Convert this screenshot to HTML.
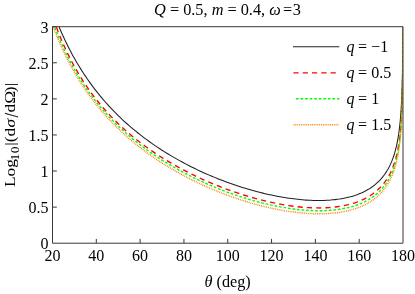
<!DOCTYPE html><html><head><meta charset="utf-8"><style>html,body{margin:0;padding:0;background:#fff}body{width:415px;height:294px;position:relative;overflow:hidden;font-family:"Liberation Serif",serif}</style></head><body><svg width="415" height="294" viewBox="0 0 415 294" style="position:absolute;left:0;top:0;will-change:transform">
<defs><clipPath id="cp"><rect x="52.5" y="26.7" width="350.5" height="216.5"/></clipPath></defs>
<g fill="none" stroke-linejoin="round" clip-path="url(#cp)">
<path d="M50.31,3.61 L51.4,6.79 L52.5,9.89 L53.6,12.91 L54.69,15.84 L55.79,18.7 L56.88,21.48 L57.98,24.2 L59.07,26.85 L60.17,29.44 L61.26,31.96 L62.36,34.43 L63.45,36.84 L64.55,39.2 L65.64,41.51 L66.74,43.77 L67.83,45.98 L68.93,48.15 L70.03,50.27 L71.12,52.35 L72.22,54.39 L73.31,56.39 L74.41,58.35 L76.6,62.16 L78.79,65.83 L80.98,69.38 L83.17,72.81 L85.36,76.12 L87.55,79.32 L89.74,82.42 L91.93,85.43 L94.12,88.35 L96.31,91.18 L98.5,93.92 L100.69,96.6 L102.88,99.19 L105.07,101.72 L107.27,104.18 L109.46,106.58 L111.65,108.91 L113.84,111.19 L116.03,113.41 L118.22,115.58 L120.41,117.69 L122.6,119.76 L124.79,121.77 L126.98,123.75 L129.17,125.67 L131.36,127.56 L133.55,129.4 L135.74,131.21 L137.93,132.98 L140.12,134.71 L142.32,136.4 L144.51,138.06 L146.7,139.69 L148.89,141.28 L151.08,142.84 L153.27,144.37 L155.46,145.87 L157.65,147.34 L159.84,148.79 L162.03,150.21 L164.22,151.6 L166.41,152.96 L168.6,154.3 L170.79,155.61 L172.98,156.9 L175.18,158.17 L177.37,159.41 L179.56,160.63 L181.75,161.83 L183.94,163.01 L186.13,164.16 L188.32,165.29 L190.51,166.41 L192.7,167.5 L194.89,168.57 L197.08,169.63 L199.27,170.66 L201.46,171.68 L203.65,172.68 L205.84,173.66 L208.03,174.62 L210.22,175.56 L212.42,176.48 L214.61,177.39 L216.8,178.28 L218.99,179.15 L221.18,180.01 L223.37,180.85 L225.56,181.67 L227.75,182.47 L229.94,183.26 L232.13,184.03 L234.32,184.79 L236.51,185.53 L238.7,186.25 L240.89,186.96 L243.08,187.65 L245.28,188.32 L247.47,188.98 L249.66,189.62 L251.85,190.24 L254.04,190.85 L256.23,191.44 L258.42,192.02 L260.61,192.58 L262.8,193.12 L264.99,193.64 L267.18,194.15 L269.37,194.64 L271.56,195.11 L273.75,195.57 L275.94,196.01 L278.13,196.43 L280.33,196.83 L282.52,197.21 L284.71,197.58 L286.9,197.92 L289.09,198.25 L291.28,198.55 L293.47,198.84 L295.66,199.1 L297.85,199.35 L300.04,199.57 L302.23,199.77 L304.42,199.95 L306.61,200.11 L308.8,200.24 L310.99,200.34 L313.18,200.42 L315.38,200.48 L317.57,200.51 L319.76,200.51 L321.95,200.48 L324.14,200.42 L326.33,200.33 L328.52,200.2 L330.71,200.05 L332.9,199.85 L335.09,199.62 L337.28,199.35 L339.47,199.04 L341.66,198.68 L343.85,198.28 L346.04,197.83 L348.23,197.32 L350.43,196.76 L352.62,196.13 L354.81,195.45 L357.0,194.69 L359.19,193.85 L361.38,192.93 L363.57,191.92 L365.76,190.81 L367.95,189.58 L370.14,188.23 L371.24,187.5 L371.78,187.12 L372.33,186.73 L372.88,186.33 L373.43,185.92 L373.97,185.5 L374.52,185.07 L375.07,184.63 L375.62,184.17 L376.16,183.7 L376.71,183.22 L377.26,182.73 L377.81,182.22 L378.36,181.7 L378.9,181.16 L379.45,180.6 L380.0,180.03 L380.55,179.44 L381.09,178.83 L381.64,178.2 L382.19,177.55 L382.74,176.88 L383.28,176.19 L383.83,175.47 L384.38,174.73 L384.93,173.96 L385.47,173.17 L386.02,172.34 L386.57,171.48 L387.12,170.59 L387.67,169.66 L388.21,168.69 L388.76,167.68 L389.31,166.62 L389.86,165.52 L390.4,164.36 L390.95,163.15 L391.5,161.87 L392.05,160.52 L392.59,159.09 L393.14,157.59 L393.69,155.98 L394.24,154.27 L394.46,153.56 L394.57,153.19 L394.68,152.82 L394.79,152.45 L394.89,152.07 L395.0,151.68 L395.11,151.29 L395.22,150.89 L395.33,150.48 L395.44,150.07 L395.55,149.66 L395.66,149.23 L395.77,148.8 L395.88,148.37 L395.99,147.92 L396.1,147.47 L396.21,147.01 L396.32,146.54 L396.43,146.07 L396.54,145.58 L396.65,145.09 L396.76,144.59 L396.87,144.08 L396.98,143.56 L397.09,143.03 L397.19,142.49 L397.3,141.94 L397.41,141.37 L397.52,140.8 L397.63,140.21 L397.74,139.61 L397.85,139.0 L397.96,138.37 L398.07,137.73 L398.18,137.08 L398.29,136.41 L398.4,135.72 L398.51,135.01 L398.62,134.29 L398.73,133.55 L398.84,132.79 L398.95,132.01 L399.06,131.2 L399.17,130.37 L399.28,129.52 L399.39,128.64 L399.5,127.73 L399.6,126.8 L399.71,125.83 L399.82,124.83 L399.93,123.79 L400.04,122.72 L400.15,121.6 L400.26,120.43 L400.37,119.22 L400.48,117.96 L400.59,116.64 L400.7,115.26 L400.81,113.8 L400.92,112.28 L401.03,110.66 L401.14,108.96 L401.25,107.15 L401.36,105.22 L401.47,103.16 L401.58,100.94 L401.69,98.54 L401.8,95.93 L401.9,93.07 L402.14,85.98 L402.32,78.88 L402.46,71.76 L402.57,64.64 L402.66,57.52 L402.73,50.39 L402.79,43.26 L402.83,36.13 L402.87,28.99 L402.9,21.85 L402.92,14.71 L402.94,7.57" stroke="#202020" stroke-width="1.05"/>
<path d="M50.31,9.8 L51.4,13.16 L52.5,16.41 L53.6,19.58 L54.69,22.65 L55.79,25.64 L56.88,28.54 L57.98,31.37 L59.07,34.13 L60.17,36.81 L61.26,39.43 L62.36,41.99 L63.45,44.48 L64.55,46.91 L65.64,49.29 L66.74,51.61 L67.83,53.88 L68.93,56.11 L70.03,58.28 L71.12,60.4 L72.22,62.48 L73.31,64.52 L74.41,66.52 L76.6,70.39 L78.79,74.12 L80.98,77.7 L83.17,81.16 L85.36,84.49 L87.55,87.7 L89.74,90.81 L91.93,93.82 L94.12,96.73 L96.31,99.55 L98.5,102.28 L100.69,104.93 L102.88,107.51 L105.07,110.01 L107.27,112.44 L109.46,114.81 L111.65,117.11 L113.84,119.35 L116.03,121.53 L118.22,123.66 L120.41,125.74 L122.6,127.77 L124.79,129.75 L126.98,131.68 L129.17,133.57 L131.36,135.42 L133.55,137.22 L135.74,138.99 L137.93,140.72 L140.12,142.41 L142.32,144.07 L144.51,145.69 L146.7,147.28 L148.89,148.84 L151.08,150.37 L153.27,151.87 L155.46,153.34 L157.65,154.78 L159.84,156.2 L162.03,157.59 L164.22,158.95 L166.41,160.29 L168.6,161.6 L170.79,162.89 L172.98,164.16 L175.18,165.41 L177.37,166.63 L179.56,167.84 L181.75,169.02 L183.94,170.18 L186.13,171.32 L188.32,172.44 L190.51,173.54 L192.7,174.63 L194.89,175.69 L197.08,176.74 L199.27,177.77 L201.46,178.78 L203.65,179.77 L205.84,180.75 L208.03,181.71 L210.22,182.65 L212.42,183.58 L214.61,184.48 L216.8,185.38 L218.99,186.25 L221.18,187.11 L223.37,187.95 L225.56,188.78 L227.75,189.59 L229.94,190.39 L232.13,191.17 L234.32,191.93 L236.51,192.68 L238.7,193.41 L240.89,194.13 L243.08,194.83 L245.28,195.51 L247.47,196.18 L249.66,196.83 L251.85,197.47 L254.04,198.09 L256.23,198.69 L258.42,199.28 L260.61,199.85 L262.8,200.4 L264.99,200.94 L267.18,201.45 L269.37,201.96 L271.56,202.44 L273.75,202.91 L275.94,203.36 L278.13,203.79 L280.33,204.2 L282.52,204.59 L284.71,204.96 L286.9,205.32 L289.09,205.65 L291.28,205.96 L293.47,206.26 L295.66,206.53 L297.85,206.78 L300.04,207.0 L302.23,207.21 L304.42,207.39 L306.61,207.55 L308.8,207.68 L310.99,207.79 L313.18,207.87 L315.38,207.92 L317.57,207.95 L319.76,207.95 L321.95,207.92 L324.14,207.85 L326.33,207.76 L328.52,207.63 L330.71,207.47 L332.9,207.27 L335.09,207.03 L337.28,206.75 L339.47,206.43 L341.66,206.07 L343.85,205.66 L346.04,205.2 L348.23,204.69 L350.43,204.12 L352.62,203.49 L354.81,202.8 L357.0,202.04 L359.19,201.21 L361.38,200.29 L363.57,199.29 L365.76,198.19 L367.95,196.98 L370.14,195.66 L371.24,194.94 L371.78,194.57 L372.33,194.19 L372.88,193.81 L373.43,193.41 L373.97,193.0 L374.52,192.58 L375.07,192.15 L375.62,191.71 L376.16,191.25 L376.71,190.79 L377.26,190.31 L377.81,189.82 L378.36,189.31 L378.9,188.79 L379.45,188.26 L380.0,187.71 L380.55,187.14 L381.09,186.56 L381.64,185.96 L382.19,185.34 L382.74,184.7 L383.28,184.04 L383.83,183.36 L384.38,182.65 L384.93,181.92 L385.47,181.16 L386.02,180.38 L386.57,179.57 L387.12,178.72 L387.67,177.85 L388.21,176.93 L388.76,175.98 L389.31,174.99 L389.86,173.95 L390.4,172.86 L390.95,171.72 L391.5,170.53 L392.05,169.27 L392.59,167.94 L393.14,166.54 L393.69,165.05 L394.24,163.46 L394.46,162.8 L394.57,162.46 L394.68,162.12 L394.79,161.77 L394.89,161.42 L395.0,161.06 L395.11,160.7 L395.22,160.33 L395.33,159.95 L395.44,159.58 L395.55,159.19 L395.66,158.8 L395.77,158.4 L395.88,158.0 L395.99,157.59 L396.1,157.17 L396.21,156.75 L396.32,156.32 L396.43,155.88 L396.54,155.43 L396.65,154.98 L396.76,154.52 L396.87,154.05 L396.98,153.57 L397.09,153.08 L397.19,152.58 L397.3,152.08 L397.41,151.56 L397.52,151.03 L397.63,150.49 L397.74,149.94 L397.85,149.38 L397.96,148.81 L398.07,148.22 L398.18,147.62 L398.29,147.0 L398.4,146.37 L398.51,145.73 L398.62,145.07 L398.73,144.39 L398.84,143.69 L398.95,142.98 L399.06,142.24 L399.17,141.48 L399.28,140.7 L399.39,139.9 L399.5,139.07 L399.6,138.22 L399.71,137.34 L399.82,136.42 L399.93,135.48 L400.04,134.5 L400.15,133.48 L400.26,132.42 L400.37,131.32 L400.48,130.17 L400.59,128.96 L400.7,127.71 L400.81,126.39 L400.92,125.0 L401.03,123.53 L401.14,121.98 L401.25,120.34 L401.36,118.59 L401.47,116.72 L401.58,114.71 L401.69,112.53 L401.8,110.17 L401.9,107.58 L402.14,101.16 L402.32,94.73 L402.46,88.3 L402.57,81.87 L402.66,75.43 L402.73,68.99 L402.79,62.55 L402.83,56.11 L402.87,49.66 L402.9,43.22 L402.92,36.78 L402.94,30.33 L402.95,23.89 L402.96,17.44 L402.97,11.0 L402.97,4.55" stroke="#ff0000" stroke-width="1.35" stroke-dasharray="5.2 4.1"/>
<path d="M50.31,14.68 L51.4,17.89 L52.5,21.02 L53.6,24.05 L54.69,27.0 L55.79,29.88 L56.88,32.68 L57.98,35.4 L59.07,38.06 L60.17,40.66 L61.26,43.19 L62.36,45.66 L63.45,48.07 L64.55,50.43 L65.64,52.74 L66.74,54.99 L67.83,57.2 L68.93,59.36 L70.03,61.47 L71.12,63.54 L72.22,65.57 L73.31,67.56 L74.41,69.51 L76.6,73.29 L78.79,76.94 L80.98,80.45 L83.17,83.85 L85.36,87.12 L87.55,90.29 L89.74,93.36 L91.93,96.32 L94.12,99.2 L96.31,101.99 L98.5,104.7 L100.69,107.33 L102.88,109.89 L105.07,112.38 L107.27,114.8 L109.46,117.15 L111.65,119.45 L113.84,121.69 L116.03,123.87 L118.22,126.0 L120.41,128.08 L122.6,130.11 L124.79,132.09 L126.98,134.03 L129.17,135.92 L131.36,137.78 L133.55,139.59 L135.74,141.37 L137.93,143.1 L140.12,144.81 L142.32,146.47 L144.51,148.11 L146.7,149.71 L148.89,151.28 L151.08,152.82 L153.27,154.33 L155.46,155.81 L157.65,157.26 L159.84,158.69 L162.03,160.09 L164.22,161.47 L166.41,162.81 L168.6,164.14 L170.79,165.44 L172.98,166.72 L175.18,167.98 L177.37,169.21 L179.56,170.42 L181.75,171.61 L183.94,172.78 L186.13,173.93 L188.32,175.06 L190.51,176.18 L192.7,177.27 L194.89,178.34 L197.08,179.39 L199.27,180.43 L201.46,181.44 L203.65,182.44 L205.84,183.42 L208.03,184.39 L210.22,185.34 L212.42,186.27 L214.61,187.18 L216.8,188.07 L218.99,188.95 L221.18,189.82 L223.37,190.66 L225.56,191.49 L227.75,192.3 L229.94,193.1 L232.13,193.88 L234.32,194.65 L236.51,195.4 L238.7,196.13 L240.89,196.85 L243.08,197.55 L245.28,198.23 L247.47,198.9 L249.66,199.55 L251.85,200.19 L254.04,200.81 L256.23,201.41 L258.42,201.99 L260.61,202.56 L262.8,203.12 L264.99,203.65 L267.18,204.17 L269.37,204.67 L271.56,205.16 L273.75,205.62 L275.94,206.07 L278.13,206.5 L280.33,206.91 L282.52,207.31 L284.71,207.68 L286.9,208.03 L289.09,208.37 L291.28,208.68 L293.47,208.98 L295.66,209.25 L297.85,209.5 L300.04,209.73 L302.23,209.94 L304.42,210.12 L306.61,210.29 L308.8,210.42 L310.99,210.53 L313.18,210.62 L315.38,210.68 L317.57,210.71 L319.76,210.72 L321.95,210.69 L324.14,210.64 L326.33,210.55 L328.52,210.43 L330.71,210.28 L332.9,210.09 L335.09,209.86 L337.28,209.59 L339.47,209.28 L341.66,208.93 L343.85,208.53 L346.04,208.09 L348.23,207.59 L350.43,207.04 L352.62,206.42 L354.81,205.75 L357.0,205.01 L359.19,204.19 L361.38,203.29 L363.57,202.3 L365.76,201.22 L367.95,200.03 L370.14,198.71 L371.24,198.01 L371.78,197.64 L372.33,197.27 L372.88,196.88 L373.43,196.49 L373.97,196.08 L374.52,195.67 L375.07,195.24 L375.62,194.8 L376.16,194.35 L376.71,193.89 L377.26,193.41 L377.81,192.93 L378.36,192.42 L378.9,191.91 L379.45,191.38 L380.0,190.83 L380.55,190.26 L381.09,189.68 L381.64,189.08 L382.19,188.46 L382.74,187.83 L383.28,187.17 L383.83,186.48 L384.38,185.78 L384.93,185.05 L385.47,184.29 L386.02,183.51 L386.57,182.69 L387.12,181.85 L387.67,180.97 L388.21,180.05 L388.76,179.1 L389.31,178.1 L389.86,177.06 L390.4,175.97 L390.95,174.83 L391.5,173.62 L392.05,172.36 L392.59,171.02 L393.14,169.61 L393.69,168.1 L394.24,166.51 L394.46,165.84 L394.57,165.49 L394.68,165.15 L394.79,164.8 L394.89,164.44 L395.0,164.08 L395.11,163.71 L395.22,163.34 L395.33,162.97 L395.44,162.58 L395.55,162.19 L395.66,161.8 L395.77,161.4 L395.88,160.99 L395.99,160.58 L396.1,160.15 L396.21,159.73 L396.32,159.29 L396.43,158.85 L396.54,158.4 L396.65,157.94 L396.76,157.47 L396.87,157.0 L396.98,156.51 L397.09,156.02 L397.19,155.52 L397.3,155.0 L397.41,154.48 L397.52,153.95 L397.63,153.4 L397.74,152.84 L397.85,152.27 L397.96,151.69 L398.07,151.1 L398.18,150.49 L398.29,149.87 L398.4,149.23 L398.51,148.58 L398.62,147.91 L398.73,147.22 L398.84,146.51 L398.95,145.79 L399.06,145.04 L399.17,144.27 L399.28,143.48 L399.39,142.67 L399.5,141.83 L399.6,140.96 L399.71,140.07 L399.82,139.14 L399.93,138.18 L400.04,137.19 L400.15,136.15 L400.26,135.08 L400.37,133.96 L400.48,132.79 L400.59,131.57 L400.7,130.29 L400.81,128.95 L400.92,127.54 L401.03,126.06 L401.14,124.48 L401.25,122.81 L401.36,121.03 L401.47,119.13 L401.58,117.09 L401.69,114.88 L401.8,112.47 L401.9,109.84 L402.14,103.31 L402.32,96.77 L402.46,90.22 L402.57,83.67 L402.66,77.12 L402.73,70.57 L402.79,64.01 L402.83,57.45 L402.87,50.89 L402.9,44.33 L402.92,37.77 L402.94,31.21 L402.95,24.65 L402.96,18.09 L402.97,11.52 L402.97,4.96" stroke="#00ff00" stroke-width="1.4" stroke-dasharray="2.65 1.9"/>
<path d="M50.31,18.49 L51.4,21.63 L52.5,24.69 L53.6,27.66 L54.69,30.56 L55.79,33.37 L56.88,36.12 L57.98,38.79 L59.07,41.41 L60.17,43.95 L61.26,46.44 L62.36,48.87 L63.45,51.25 L64.55,53.57 L65.64,55.84 L66.74,58.06 L67.83,60.24 L68.93,62.37 L70.03,64.45 L71.12,66.5 L72.22,68.5 L73.31,70.47 L74.41,72.4 L76.6,76.14 L78.79,79.75 L80.98,83.24 L83.17,86.6 L85.36,89.86 L87.55,93.01 L89.74,96.05 L91.93,99.01 L94.12,101.87 L96.31,104.66 L98.5,107.36 L100.69,109.98 L102.88,112.54 L105.07,115.02 L107.27,117.44 L109.46,119.8 L111.65,122.1 L113.84,124.34 L116.03,126.53 L118.22,128.66 L120.41,130.75 L122.6,132.79 L124.79,134.78 L126.98,136.72 L129.17,138.63 L131.36,140.49 L133.55,142.31 L135.74,144.1 L137.93,145.84 L140.12,147.56 L142.32,149.23 L144.51,150.88 L146.7,152.49 L148.89,154.07 L151.08,155.62 L153.27,157.14 L155.46,158.63 L157.65,160.1 L159.84,161.54 L162.03,162.95 L164.22,164.33 L166.41,165.69 L168.6,167.03 L170.79,168.34 L172.98,169.63 L175.18,170.89 L177.37,172.13 L179.56,173.36 L181.75,174.56 L183.94,175.74 L186.13,176.89 L188.32,178.03 L190.51,179.15 L192.7,180.25 L194.89,181.33 L197.08,182.39 L199.27,183.43 L201.46,184.45 L203.65,185.46 L205.84,186.45 L208.03,187.41 L210.22,188.37 L212.42,189.3 L214.61,190.22 L216.8,191.12 L218.99,192.0 L221.18,192.87 L223.37,193.72 L225.56,194.55 L227.75,195.37 L229.94,196.17 L232.13,196.95 L234.32,197.72 L236.51,198.47 L238.7,199.2 L240.89,199.92 L243.08,200.62 L245.28,201.31 L247.47,201.98 L249.66,202.63 L251.85,203.27 L254.04,203.89 L256.23,204.49 L258.42,205.07 L260.61,205.64 L262.8,206.2 L264.99,206.73 L267.18,207.25 L269.37,207.75 L271.56,208.23 L273.75,208.7 L275.94,209.15 L278.13,209.58 L280.33,209.99 L282.52,210.38 L284.71,210.75 L286.9,211.11 L289.09,211.44 L291.28,211.75 L293.47,212.05 L295.66,212.32 L297.85,212.57 L300.04,212.8 L302.23,213.0 L304.42,213.19 L306.61,213.35 L308.8,213.49 L310.99,213.6 L313.18,213.68 L315.38,213.74 L317.57,213.77 L319.76,213.78 L321.95,213.75 L324.14,213.7 L326.33,213.61 L328.52,213.49 L330.71,213.34 L332.9,213.15 L335.09,212.93 L337.28,212.66 L339.47,212.36 L341.66,212.01 L343.85,211.61 L346.04,211.17 L348.23,210.68 L350.43,210.13 L352.62,209.52 L354.81,208.85 L357.0,208.11 L359.19,207.29 L361.38,206.4 L363.57,205.42 L365.76,204.34 L367.95,203.16 L370.14,201.85 L371.24,201.15 L371.78,200.78 L372.33,200.41 L372.88,200.03 L373.43,199.63 L373.97,199.23 L374.52,198.82 L375.07,198.39 L375.62,197.96 L376.16,197.51 L376.71,197.05 L377.26,196.57 L377.81,196.09 L378.36,195.59 L378.9,195.07 L379.45,194.54 L380.0,194.0 L380.55,193.43 L381.09,192.85 L381.64,192.26 L382.19,191.64 L382.74,191.0 L383.28,190.34 L383.83,189.66 L384.38,188.96 L384.93,188.23 L385.47,187.48 L386.02,186.7 L386.57,185.88 L387.12,185.04 L387.67,184.16 L388.21,183.25 L388.76,182.29 L389.31,181.3 L389.86,180.26 L390.4,179.17 L390.95,178.02 L391.5,176.82 L392.05,175.56 L392.59,174.22 L393.14,172.81 L393.69,171.31 L394.24,169.71 L394.46,169.04 L394.57,168.7 L394.68,168.35 L394.79,168.0 L394.89,167.64 L395.0,167.28 L395.11,166.92 L395.22,166.54 L395.33,166.17 L395.44,165.78 L395.55,165.39 L395.66,165.0 L395.77,164.6 L395.88,164.19 L395.99,163.78 L396.1,163.36 L396.21,162.93 L396.32,162.49 L396.43,162.05 L396.54,161.6 L396.65,161.14 L396.76,160.67 L396.87,160.2 L396.98,159.71 L397.09,159.22 L397.19,158.71 L397.3,158.2 L397.41,157.68 L397.52,157.14 L397.63,156.6 L397.74,156.04 L397.85,155.47 L397.96,154.89 L398.07,154.29 L398.18,153.68 L398.29,153.06 L398.4,152.42 L398.51,151.76 L398.62,151.09 L398.73,150.4 L398.84,149.7 L398.95,148.97 L399.06,148.22 L399.17,147.46 L399.28,146.66 L399.39,145.85 L399.5,145.01 L399.6,144.14 L399.71,143.24 L399.82,142.32 L399.93,141.35 L400.04,140.36 L400.15,139.32 L400.26,138.24 L400.37,137.12 L400.48,135.95 L400.59,134.73 L400.7,133.45 L400.81,132.11 L400.92,130.69 L401.03,129.2 L401.14,127.63 L401.25,125.95 L401.36,124.17 L401.47,122.26 L401.58,120.21 L401.69,118.0 L401.8,115.59 L401.9,112.95 L402.14,106.4 L402.32,99.84 L402.46,93.28 L402.57,86.72 L402.66,80.15 L402.73,73.57 L402.79,67.0 L402.83,60.42 L402.87,53.84 L402.9,47.27 L402.92,40.69 L402.94,34.11 L402.95,27.52 L402.96,20.94 L402.97,14.36 L402.97,7.78" stroke="#ff8000" stroke-width="1.45" stroke-dasharray="0.9 0.93"/>
</g>
<g fill="none" stroke="#383838" stroke-width="1">
<path d="M52.5,26.7 H403.0"/>
<path d="M52.5,26.7 V243.2 H403.0"/>
<path d="M403.0,26.7 V243.2"/>
<path d="M96.31,243.2 v-4.3 M140.12,243.2 v-4.3 M183.94,243.2 v-4.3 M227.75,243.2 v-4.3 M271.56,243.2 v-4.3 M315.38,243.2 v-4.3 M359.19,243.2 v-4.3 M52.5,207.12 h4.3 M52.5,171.03 h4.3 M52.5,134.95 h4.3 M52.5,98.87 h4.3 M52.5,62.78 h4.3 M52.5,26.70 h4.3 "/>
</g>
<g fill="none">
<path d="M293,46.7 H339.3" stroke="#202020" stroke-width="1.05"/>
<path d="M293.4,72.8 H339.3" stroke="#ff0000" stroke-width="1.35" stroke-dasharray="5.2 4.1"/>
<path d="M296,98.8 H339.3" stroke="#00ff00" stroke-width="1.4" stroke-dasharray="2.65 1.9"/>
<path d="M293.5,124.8 H339.3" stroke="#ff8000" stroke-width="1.45" stroke-dasharray="0.9 0.93"/>
</g>
<g font-family="Liberation Serif, serif" font-size="16" fill="#000">
<text x="227.5" y="15.3" font-size="16.3" text-anchor="middle"><tspan font-style="italic">Q</tspan> = 0.5, <tspan font-style="italic">m</tspan> = 0.4, <tspan font-style="italic">ω</tspan><tspan dx="-1.8"> =</tspan><tspan dx="0.6">3</tspan></text>
<text x="52.50" y="261.3" text-anchor="middle">20</text>
<text x="96.31" y="261.3" text-anchor="middle">40</text>
<text x="140.12" y="261.3" text-anchor="middle">60</text>
<text x="183.94" y="261.3" text-anchor="middle">80</text>
<text x="227.75" y="261.3" text-anchor="middle">100</text>
<text x="271.56" y="261.3" text-anchor="middle">120</text>
<text x="315.38" y="261.3" text-anchor="middle">140</text>
<text x="359.19" y="261.3" text-anchor="middle">160</text>
<text x="403.00" y="261.3" text-anchor="middle">180</text>
<text x="48.6" y="249.00" text-anchor="end">0</text>
<text x="48.6" y="212.92" text-anchor="end">0.5</text>
<text x="48.6" y="176.83" text-anchor="end">1</text>
<text x="48.6" y="140.75" text-anchor="end">1.5</text>
<text x="48.6" y="104.67" text-anchor="end">2</text>
<text x="48.6" y="68.58" text-anchor="end">2.5</text>
<text x="48.6" y="32.50" text-anchor="end">3</text>
<text x="227.6" y="286.6" font-size="16.2" text-anchor="middle"><tspan font-style="italic">θ</tspan> (deg)</text>
<g transform="translate(15.4,187.1) rotate(-90) scale(1.12,1)"><text font-size="15.6" text-anchor="start">Log<tspan font-size="12.3" letter-spacing="0.4" dx="-1.35" dy="3.8">10</tspan><tspan dy="-3.8">|(d</tspan><tspan font-style="italic" dx="0.3">σ</tspan></text></g>
<g transform="translate(17.9,117.2) rotate(-90) scale(0.8,1)"><text font-size="19.3" stroke="#000" stroke-width="0.25">/</text></g>
<g transform="translate(15.4,112.5) rotate(-90) scale(1.12,1)"><text font-size="15.6">dΩ<tspan dx="-1.2">)|</tspan></text></g>
<text x="346.5" y="51.7" font-size="16"><tspan font-style="italic">q</tspan><tspan dx="-0.4"> = </tspan>−1</text>
<text x="346.5" y="77.7" font-size="16"><tspan font-style="italic">q</tspan><tspan dx="-0.4"> = </tspan>0.5</text>
<text x="346.5" y="103.7" font-size="16"><tspan font-style="italic">q</tspan><tspan dx="-0.4"> = </tspan>1</text>
<text x="346.5" y="129.7" font-size="16"><tspan font-style="italic">q</tspan><tspan dx="-0.4"> = </tspan>1.5</text>
</g>
</svg></body></html>
